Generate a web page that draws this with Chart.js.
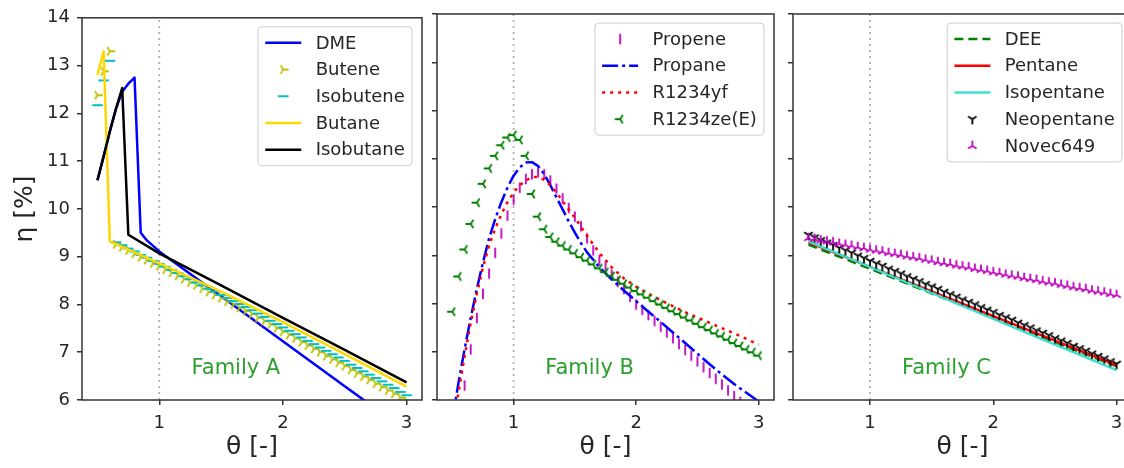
<!DOCTYPE html>
<html lang="en">
<head>
<meta charset="UTF-8">
<title>Efficiency vs theta for three fluid families</title>
<script src="https://cdn.jsdelivr.net/npm/chart.js"></script>
<style>
    body {
        margin: 0;
        width: 1124px;
        height: 468px;
        overflow: hidden;
        background: #fff;
        position: relative;
    }
    .panel { position: absolute; top: 0; height: 468px; }
    #panelA { left: 0; width: 428px; }
    #panelB { left: 430px; width: 350px; }
    #panelC { left: 786px; width: 352px; }
</style>
</head>
<body>
<div class="panel" id="panelA"><canvas id="chartA"></canvas></div>
<div class="panel" id="panelB"><canvas id="chartB"></canvas></div>
<div class="panel" id="panelC"><canvas id="chartC"></canvas></div>

<script>
// ---- data ----
const xTicks = [1, 2, 3];
const yTicks = [6, 7, 8, 9, 10, 11, 12, 13, 14];

// theta grid used by the marker series
const theta = [0.50,0.55,0.60,0.65,0.70,0.75,0.80,0.85,0.90,0.95,1.00,1.05,1.10,1.15,1.20,1.25,1.30,1.35,1.40,1.45,1.50,
               1.55,1.60,1.65,1.70,1.75,1.80,1.85,1.90,1.95,2.00,2.05,2.10,2.15,2.20,2.25,2.30,2.35,2.40,2.45,2.50,
               2.55,2.60,2.65,2.70,2.75,2.80,2.85,2.90,2.95,3.00];

// vertical guide at theta = 1
const guideTheta = [1, 1];
const guideEta = [6, 14];

// Family A
const dmeTheta = [0.50,0.55,0.60,0.65,0.70,0.75,0.80,0.85,0.90,1.00,1.50,2.00,2.50,3.00];
const dmeEta   = [10.60,11.10,11.62,12.10,12.45,12.62,12.75,9.50,9.34,9.11,8.17,7.23,6.29,5.35];
const buteneEta = [12.38,12.88,13.30,9.26,9.20,9.13,9.06,8.99,8.93,8.86,8.80,8.73,8.66,8.60,8.53,8.46,8.40,8.33,8.26,8.20,8.13,
                   8.06,8.00,7.93,7.86,7.80,7.72,7.65,7.58,7.50,7.43,7.36,7.29,7.21,7.14,7.07,7.00,6.92,6.85,6.78,6.71,
                   6.63,6.56,6.49,6.42,6.34,6.27,6.20,6.13,6.05,5.98];
const isobuteneEta = [12.17,12.69,13.10,9.30,9.24,9.17,9.11,9.04,8.98,8.91,8.85,8.79,8.72,8.66,8.59,8.53,8.46,8.40,8.33,8.27,8.20,
                      8.14,8.07,8.01,7.95,7.88,7.81,7.74,7.66,7.59,7.52,7.45,7.38,7.31,7.24,7.17,7.10,7.03,6.96,6.89,6.82,
                      6.74,6.67,6.60,6.53,6.46,6.39,6.32,6.25,6.17,6.10];
const butaneTheta = [0.50,0.55,0.60,1.00,1.50,2.00,2.50,3.00];
const butaneEta   = [12.80,13.30,9.32,8.86,8.27,7.63,6.96,6.28];
const isobutaneTheta = [0.50,0.55,0.60,0.65,0.70,0.75,1.00,1.50,2.00,2.50,3.00];
const isobutaneEta   = [10.60,11.10,11.62,12.10,12.53,9.46,9.07,8.40,7.72,7.05,6.37];

// Family B
const propeneEta = [4.80,5.55,6.30,7.05,7.70,8.20,8.62,9.05,9.45,9.82,10.15,10.40,10.58,10.68,10.72,10.68,10.55,10.38,10.18,9.98,9.80,
                    9.60,9.35,9.10,8.90,8.75,8.60,8.45,8.30,8.14,7.98,7.87,7.76,7.64,7.52,7.40,7.28,7.16,7.04,6.92,6.80,
                    6.68,6.56,6.44,6.32,6.20,6.08,5.96,5.84,5.72,5.60];
const propaneTheta = [0.50,0.55,0.60,0.65,0.70,0.75,0.80,0.85,0.90,0.95,1.00,1.05,1.10,1.15,1.20,1.25,1.30,1.35,1.40,1.45,1.50,
                      1.55,1.60,1.70,1.80,1.90,2.00,2.10,2.20,2.30,2.40,2.50,2.60,2.70,2.80,2.90,3.00];
const propaneEta   = [5.60,6.35,7.05,7.70,8.30,8.85,9.35,9.75,10.10,10.40,10.65,10.82,10.92,10.93,10.85,10.68,10.45,10.20,9.95,9.70,9.47,
                      9.25,9.06,8.75,8.50,8.27,8.05,7.83,7.62,7.40,7.18,6.96,6.74,6.53,6.33,6.15,5.97];
const r1234yfTheta = [0.50,0.55,0.60,0.65,0.70,0.75,0.80,0.85,0.90,0.95,1.00,1.05,1.10,1.15,1.20,1.25,1.30,1.35,1.40,1.45,1.50,
                      1.60,1.70,1.80,1.90,2.00,2.10,2.20,2.40,2.60,2.80,3.00];
const r1234yfEta   = [5.40,6.15,6.90,7.60,8.20,8.75,9.20,9.55,9.85,10.10,10.30,10.45,10.55,10.62,10.62,10.56,10.45,10.30,10.12,9.95,9.78,
                      9.40,9.05,8.75,8.52,8.35,8.20,8.07,7.82,7.60,7.38,7.15];
const r1234zeEta = [7.83,8.56,9.12,9.65,10.09,10.48,10.80,11.06,11.28,11.44,11.49,11.39,11.06,10.27,9.80,9.54,9.38,9.28,9.20,9.12,9.04,
                    8.96,8.89,8.81,8.73,8.65,8.57,8.49,8.41,8.33,8.26,8.19,8.12,8.05,7.98,7.91,7.84,7.78,7.71,7.65,7.58,
                    7.51,7.45,7.38,7.32,7.25,7.18,7.12,7.05,6.99,6.92];

// Family C
const familyCTheta = [0.50,1.00,1.50,2.00,2.50,3.00];
const deeEta        = [9.22,8.72,8.21,7.71,7.20,6.70];
const pentaneEta    = [9.27,8.76,8.25,7.74,7.23,6.72];
const isopentaneEta = [9.29,8.76,8.22,7.68,7.15,6.62];
const neopentaneEta = [9.42,9.37,9.31,9.26,9.21,9.15,9.10,9.05,8.99,8.94,8.88,8.83,8.78,8.72,8.67,8.62,8.56,8.51,8.46,8.40,8.35,
                       8.30,8.24,8.19,8.14,8.08,8.03,7.98,7.92,7.87,7.82,7.76,7.71,7.66,7.60,7.55,7.50,7.44,7.39,7.34,7.28,
                       7.23,7.18,7.12,7.07,7.02,6.96,6.91,6.86,6.80,6.75];
const novecEta = [9.36,9.34,9.31,9.29,9.27,9.24,9.22,9.20,9.17,9.15,9.12,9.10,9.08,9.05,9.03,9.01,8.98,8.96,8.94,8.91,8.89,
                  8.86,8.84,8.82,8.79,8.77,8.75,8.72,8.70,8.68,8.65,8.63,8.60,8.58,8.56,8.53,8.51,8.49,8.46,8.44,8.42,
                  8.39,8.37,8.34,8.32,8.30,8.27,8.25,8.23,8.20,8.18];

// ---- styling ----
const FONT = "'DejaVu Sans', sans-serif";
const TEXT = '#262626';
const AXIS = '#333333';
const FAMILY_GREEN = '#2ca02c';

Chart.defaults.font.family = FONT;
Chart.defaults.color = TEXT;

// matplotlib-like tri / bar markers drawn onto small canvases
function makeMarker(kind, color) {
    const c = document.createElement('canvas');
    c.width = 16; c.height = 16;
    const g = c.getContext('2d');
    const spokes = {
        tri_down:  [[0, 1], [0.8, -0.5], [-0.8, -0.5]],
        tri_up:    [[0, -1], [-0.8, 0.5], [0.8, 0.5]],
        tri_left:  [[-1, 0], [0.5, 0.8], [0.5, -0.8]],
        tri_right: [[1, 0], [-0.5, -0.8], [-0.5, 0.8]],
        vline:     [[0, -1], [0, 1]],
        hline:     [[-1, 0], [1, 0]]
    }[kind];
    const r = 5.3;
    g.strokeStyle = color;
    g.lineWidth = 1.8;
    g.beginPath();
    spokes.forEach(([dx, dy]) => { g.moveTo(8, 8); g.lineTo(8 + dx * r, 8 + dy * r); });
    g.stroke();
    return c;
}

function pts(xs, ys) { return xs.map((x, i) => ({x: x, y: ys[i]})); }

function lineSet(label, xs, ys, color, dash) {
    return {
        label: label, data: pts(xs, ys), showLine: true,
        borderColor: color, backgroundColor: color, borderWidth: 2.5,
        borderDash: dash || [], borderJoinStyle: 'round',
        pointRadius: 0, pointHoverRadius: 0, tension: 0
    };
}

function markerSet(label, ys, color, kind) {
    return {
        label: label, data: pts(theta, ys), showLine: false,
        borderColor: color, backgroundColor: color,
        pointStyle: makeMarker(kind, color), pointRadius: 5, pointHoverRadius: 5
    };
}

function guideSet() {
    return {
        label: '', data: pts(guideTheta, guideEta), showLine: true,
        borderColor: '#b0b0b0', borderWidth: 1.8, borderDash: [2, 4],
        pointRadius: 0, order: 1000
    };
}

// later series on top, like matplotlib
function stack(sets) {
    sets.forEach((d, i) => { d.order = sets.length - i; });
    return [guideSet()].concat(sets);
}

// frame, family label and legend box
const panelDecor = {
    id: 'panelDecor',
    afterDraw(chart, args, opts) {
        const {ctx, chartArea: a, scales} = chart;
        ctx.save();
        ctx.strokeStyle = AXIS;
        ctx.lineWidth = 1.5;
        ctx.strokeRect(a.left, a.top, a.right - a.left, a.bottom - a.top);

        ctx.font = '21px ' + FONT;
        ctx.fillStyle = FAMILY_GREEN;
        ctx.textAlign = 'center';
        ctx.textBaseline = 'middle';
        ctx.fillText(opts.family, scales.x.getPixelForValue(opts.at[0]), scales.y.getPixelForValue(opts.at[1]));

        const fs = 18, pad = 7.2, rowH = 17.7, gap = 9, handle = 36, textPad = 14.4;
        ctx.font = fs + 'px ' + FONT;
        const items = chart.data.datasets.filter(d => d.label);
        const tw = Math.max(...items.map(d => ctx.measureText(d.label).width));
        const w = pad + handle + textPad + tw + pad;
        const h = pad * 2 + items.length * rowH + (items.length - 1) * gap;
        const x0 = a.right - 10 - w, y0 = a.top + 9;
        ctx.beginPath();
        if (ctx.roundRect) ctx.roundRect(x0, y0, w, h, 4); else ctx.rect(x0, y0, w, h);
        ctx.fillStyle = 'rgba(255,255,255,0.8)';
        ctx.fill();
        ctx.strokeStyle = '#cccccc';
        ctx.lineWidth = 1;
        ctx.stroke();

        items.forEach((d, i) => {
            const cy = y0 + pad + rowH / 2 + i * (rowH + gap);
            const hx = x0 + pad;
            if (d.showLine) {
                ctx.setLineDash(d.borderDash || []);
                ctx.strokeStyle = d.borderColor;
                ctx.lineWidth = d.borderWidth;
                ctx.beginPath();
                ctx.moveTo(hx, cy);
                ctx.lineTo(hx + handle, cy);
                ctx.stroke();
                ctx.setLineDash([]);
            } else {
                ctx.drawImage(d.pointStyle, hx + handle / 2 - 8, cy - 8);
            }
            ctx.fillStyle = TEXT;
            ctx.textAlign = 'left';
            ctx.textBaseline = 'middle';
            ctx.fillText(d.label, hx + handle + textPad, cy + 1);
        });
        ctx.restore();
    }
};

function makeScales(first) {
    const grid = {drawOnChartArea: false, drawTicks: true, tickLength: 5, color: AXIS, lineWidth: 1.5};
    return {
        x: {
            type: 'linear', min: 0.375, max: 3.125,
            afterBuildTicks: s => { s.ticks = xTicks.map(v => ({value: v})); },
            afterFit: s => { s.height = 68; },
            grid: grid, border: {display: false},
            ticks: {font: {size: 18}, color: TEXT, padding: 8, maxRotation: 0},
            title: {display: true, text: 'θ [-]', font: {size: 25}, color: TEXT, padding: {top: 0, bottom: 6}}
        },
        y: {
            type: 'linear', min: 6, max: 14,
            afterBuildTicks: s => { s.ticks = yTicks.map(v => ({value: v})); },
            afterFit: s => { s.width = first ? 82 : 7; },
            grid: grid, border: {display: false},
            ticks: {display: first, font: {size: 18}, color: TEXT, padding: 7},
            title: {display: first, text: 'η [%]', font: {size: 25}, color: TEXT, padding: {top: 10, bottom: 0}}
        }
    };
}

function makeChart(id, datasets, family, rightPad, first) {
    return new Chart(document.getElementById(id), {
        type: 'scatter',
        data: {datasets: stack(datasets)},
        options: {
            responsive: true,
            maintainAspectRatio: false,
            animation: false,
            events: [],
            layout: {padding: {top: 14, right: rightPad, left: 0, bottom: 0}},
            scales: makeScales(first),
            plugins: {
                legend: {display: false},
                tooltip: {enabled: false},
                panelDecor: {family: family, at: [1.62, 6.66]}
            }
        },
        plugins: [panelDecor]
    });
}

makeChart('chartA', [
    lineSet('DME', dmeTheta, dmeEta, '#0000ff'),
    markerSet('Butene', buteneEta, '#bfbf00', 'tri_right'),
    markerSet('Isobutene', isobuteneEta, '#00bfbf', 'hline'),
    lineSet('Butane', butaneTheta, butaneEta, '#ffd700'),
    lineSet('Isobutane', isobutaneTheta, isobutaneEta, '#000000')
], 'Family A', 5, true);

makeChart('chartB', [
    markerSet('Propene', propeneEta, '#bf00bf', 'vline'),
    lineSet('Propane', propaneTheta, propaneEta, '#0000ff', [16, 4, 3, 4]),
    lineSet('R1234yf', r1234yfTheta, r1234yfEta, '#ff0000', [3, 5]),
    markerSet('R1234ze(E)', r1234zeEta, '#008000', 'tri_left')
], 'Family B', 3, false);

makeChart('chartC', [
    lineSet('DEE', familyCTheta, deeEta, '#008000', [9, 5]),
    lineSet('Pentane', familyCTheta, pentaneEta, '#ff0000'),
    lineSet('Isopentane', familyCTheta, isopentaneEta, '#40e0d0'),
    markerSet('Neopentane', neopentaneEta, '#000000', 'tri_down'),
    markerSet('Novec649', novecEta, '#bf00bf', 'tri_up')
], 'Family C', 4, false);
</script>
</body>
</html>
